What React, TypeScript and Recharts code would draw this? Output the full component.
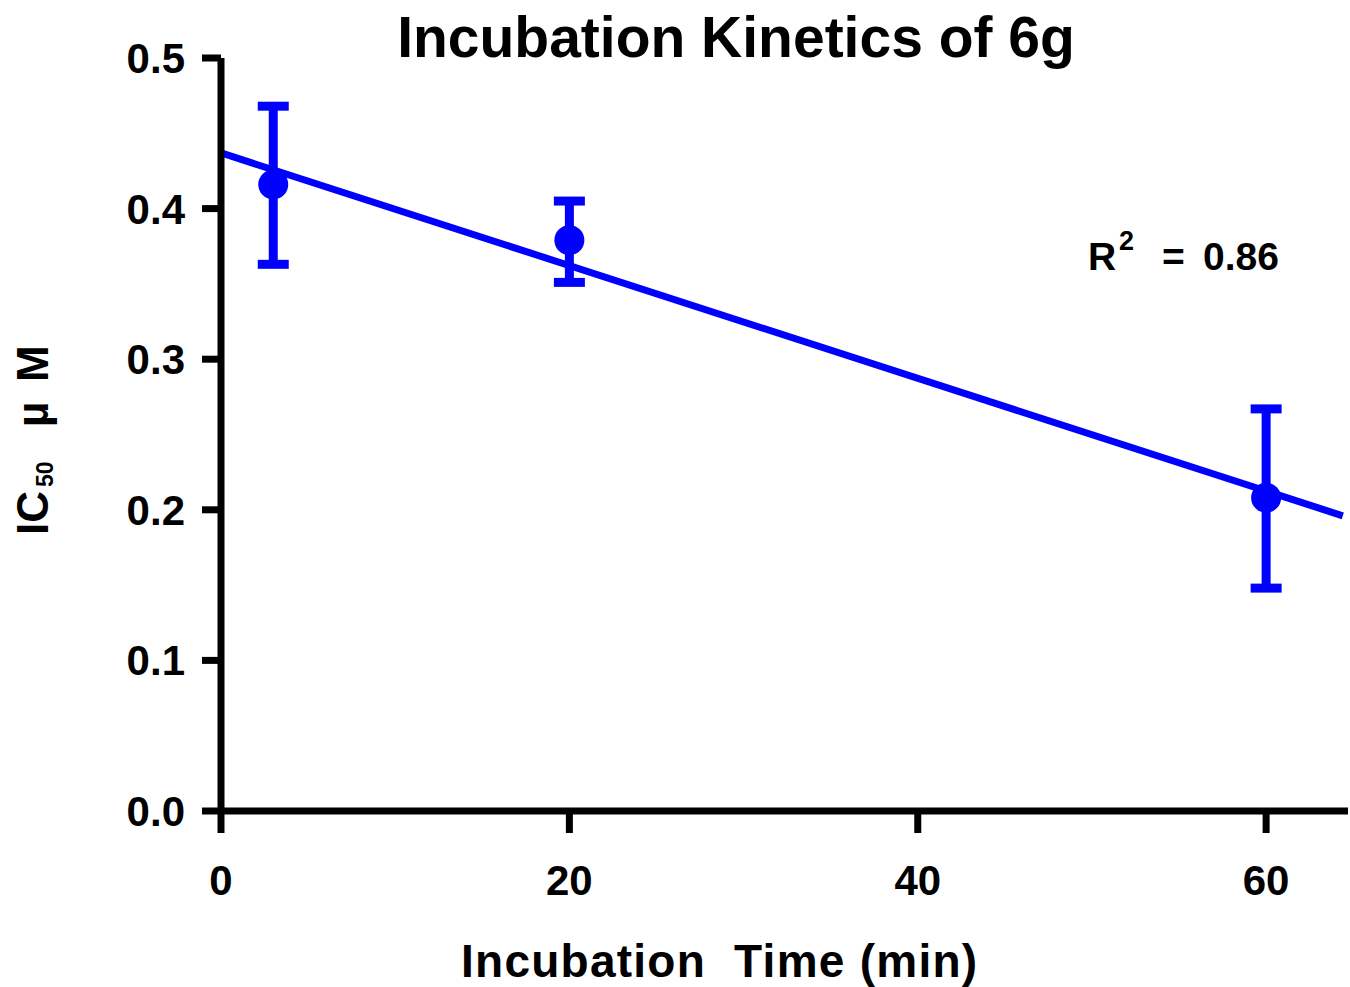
import { ComposedChart, Scatter, Line, XAxis, YAxis, ErrorBar, Customized } from "recharts";

// incubation times (min) and IC50 readings (µM)
const times = [3, 20, 60];
const ic50Mean = [0.416, 0.379, 0.208];
const ic50Upper = [0.468, 0.405, 0.267];
const ic50Lower = [0.363, 0.351, 0.148];

// linear fit, end points
const fitTimes = [0, 64.4];
const fitValues = [0.437, 0.196];

const xTicks = [0, 20, 40, 60];
const yTicks = [0, 0.1, 0.2, 0.3, 0.4, 0.5];

const BLUE = "#0000ff";
const FONT = '"Liberation Sans", Arial, sans-serif';

const points = times.map((t, i) => ({
    x: t,
    y: ic50Mean[i],
    err: [ic50Mean[i] - ic50Lower[i], ic50Upper[i] - ic50Mean[i]],
}));

const fit = fitTimes.map((t, i) => ({ x: t, y: fitValues[i] }));

const Dot = (props: any) => <circle cx={props.cx} cy={props.cy} r={15} fill={BLUE} />;

const Texts = () => (
    <g fontFamily={FONT} fontWeight="bold" fill="#000">
        <text x={736} y={57} fontSize={57} textAnchor="middle">
            Incubation Kinetics of 6g
        </text>
        <text x={461} y={977} fontSize={46} letterSpacing={1.25} style={{ whiteSpace: "pre" }}>
            {"Incubation  Time (min)"}
        </text>
        <g transform="translate(48, 535) rotate(-90)">
            <text x={0} y={0} fontSize={44}>IC</text>
            <text x={48} y={5} fontSize={23}>50</text>
            <text x={108} y={0} fontSize={44}>µ</text>
            <text x={153} y={0} fontSize={44}>M</text>
        </g>
        <text x={1088} y={270} fontSize={39}>R</text>
        <text x={1119} y={250} fontSize={27}>2</text>
        <text x={1162} y={270} fontSize={39}>=</text>
        <text x={1203} y={270} fontSize={39}>0.86</text>
    </g>
);

export default function App() {
    const tickStyle = { fill: "#000", fontSize: 42, fontWeight: "bold", fontFamily: FONT };
    return (
        <div style={{ position: "absolute", left: 0, top: 0, width: 1350, height: 987, background: "#fff" }}>
            <ComposedChart
                width={1350}
                height={987}
                data={points}
                margin={{ top: 58, right: 2, bottom: 0, left: 0 }}
            >
                <XAxis
                    type="number"
                    dataKey="x"
                    domain={[0, 64.7]}
                    ticks={xTicks}
                    height={176}
                    tickSize={22}
                    tickMargin={32}
                    axisLine={{ stroke: "#000", strokeWidth: 7 }}
                    tickLine={{ stroke: "#000", strokeWidth: 7 }}
                    tick={tickStyle}
                    allowDataOverflow
                />
                <YAxis
                    type="number"
                    dataKey="y"
                    domain={[0, 0.5]}
                    ticks={yTicks}
                    width={221}
                    tickSize={19}
                    tickMargin={17}
                    tickFormatter={(v: number) => v.toFixed(1)}
                    axisLine={{ stroke: "#000", strokeWidth: 7 }}
                    tickLine={{ stroke: "#000", strokeWidth: 7 }}
                    tick={tickStyle}
                    allowDataOverflow
                />
                <Line
                    data={fit}
                    dataKey="y"
                    stroke={BLUE}
                    strokeWidth={7}
                    dot={false}
                    activeDot={false}
                    isAnimationActive={false}
                />
                <Scatter data={points} dataKey="y" fill={BLUE} shape={Dot} isAnimationActive={false}>
                    <ErrorBar dataKey="err" direction="y" width={15.5} strokeWidth={9} stroke={BLUE} isAnimationActive={false} />
                </Scatter>
                <Customized component={Texts} />
            </ComposedChart>
        </div>
    );
}
